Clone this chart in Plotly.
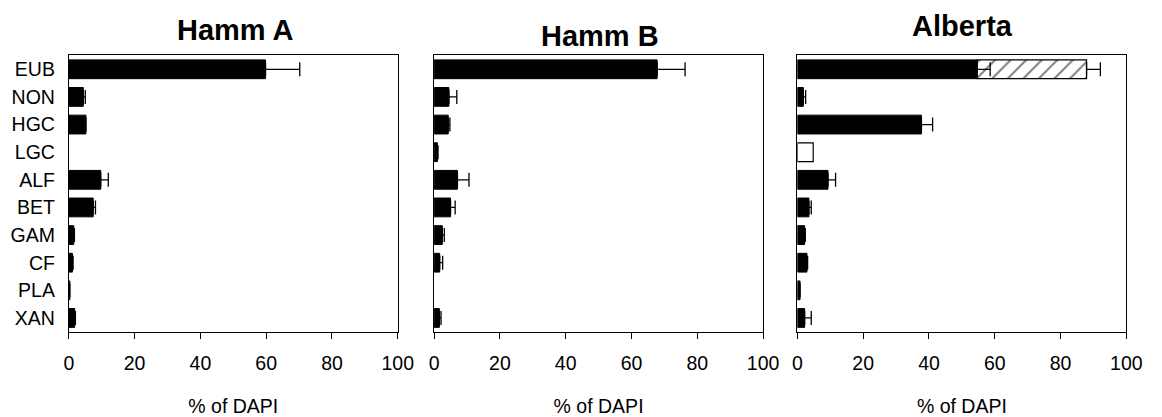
import plotly.graph_objects as go
from plotly.subplots import make_subplots

categories = ["EUB", "NON", "HGC", "LGC", "ALF", "BET", "GAM", "CF", "PLA", "XAN"]
panel_titles = ["Hamm A", "Hamm B", "Alberta"]

hamm_a = [59.8, 4.4, 5.2, 0.0, 9.7, 7.4, 1.5, 1.1, 0.3, 1.8]
hamm_a_err = [10.4, 0.6, 0.0, 0.0, 2.3, 0.7, 0.2, 0.2, 0.0, 0.2]

hamm_b = [67.8, 4.5, 4.3, 1.0, 7.1, 5.0, 2.5, 1.7, 0.0, 1.6]
hamm_b_err = [8.5, 2.4, 0.5, 0.2, 3.5, 1.4, 0.6, 0.9, 0.0, 0.5]

alberta = [54.6, 1.8, 37.7, 0.0, 9.3, 3.5, 2.2, 2.9, 0.8, 2.2]
alberta_err = [4.0, 0.7, 3.4, 0.0, 2.3, 0.7, 0.2, 0.2, 0.0, 2.0]
alberta_hatched = [33.3, 0, 0, 0, 0, 0, 0, 0, 0, 0]
alberta_hatched_err = [4.2, 0, 0, 0, 0, 0, 0, 0, 0, 0]
alberta_open = [0, 0, 0, 4.8, 0, 0, 0, 0, 0, 0]

x_ticks = [0, 20, 40, 60, 80, 100]
x_title = "% of DAPI"

FONT = "Liberation Sans, Arial, sans-serif"
W, H = 1162, 417


def nz(vals):
    return [v if v else None for v in vals]


def err(vals):
    return dict(type="data", array=vals, arrayminus=[0] * len(vals), symmetric=False,
                color="black", thickness=1.3, width=7)


fig = make_subplots(rows=1, cols=3, horizontal_spacing=0.02)
bar_kw = dict(orientation="h", width=0.68, showlegend=False)
solid = dict(color="black", line=dict(color="black", width=1))

fig.add_trace(go.Bar(y=categories, x=nz(hamm_a), error_x=err(hamm_a_err), marker=solid, **bar_kw), 1, 1)
fig.add_trace(go.Bar(y=categories, x=nz(hamm_b), error_x=err(hamm_b_err), marker=solid, **bar_kw), 1, 2)
# hatched extension drawn first (based at end of black bar), so the black bar's error bar stays on top
fig.add_trace(go.Bar(y=categories, x=nz(alberta_hatched), base=alberta, error_x=err(alberta_hatched_err),
                     marker=dict(color="white", line=dict(color="black", width=1.2),
                                 pattern=dict(shape="/", fgcolor="black", bgcolor="white",
                                              size=11, solidity=0.18)), **bar_kw), 1, 3)
fig.add_trace(go.Bar(y=categories, x=nz(alberta_open),
                     marker=dict(color="white", line=dict(color="black", width=1.2)), **bar_kw), 1, 3)
fig.add_trace(go.Bar(y=categories, x=nz(alberta), error_x=err(alberta_err), marker=solid, **bar_kw), 1, 3)

x_doms = [(65, 400), (437, 772), (807, 1142)]
y_dom = [1 - 335 / H, 1 - 56 / H]

for i, (a, b) in enumerate(x_doms, start=1):
    fig.update_xaxes(row=1, col=i, domain=[a / W, b / W], range=[0, 100], tickvals=x_ticks,
                     showgrid=False, zeroline=False, showline=True, linecolor="black", linewidth=1,
                     mirror=True, ticks="outside", ticklen=6, tickcolor="black", ticklabelstandoff=8,
                     tickfont=dict(family=FONT, size=19.5, color="black"),
                     title=dict(text=x_title, font=dict(family=FONT, size=19.5, color="black"), standoff=29))
    fig.update_yaxes(row=1, col=i, domain=y_dom, categoryorder="array", categoryarray=categories,
                     autorange="reversed", showgrid=False, zeroline=False, showline=True,
                     linecolor="black", linewidth=1, mirror=True, ticks="",
                     showticklabels=(i == 1), ticklabelstandoff=9,
                     tickfont=dict(family=FONT, size=19.5, color="black"))

title_pos = [(234.5, 30), (606, 36), (975, 26)]
for t, (cx, cy) in zip(panel_titles, title_pos):
    fig.add_annotation(text="<b>%s</b>" % t, x=cx / W, y=1 - cy / H, xref="paper", yref="paper",
                       xanchor="center", yanchor="middle", showarrow=False,
                       font=dict(family=FONT, size=29, color="black"))

fig.update_layout(width=W, height=H, margin=dict(l=0, r=0, t=0, b=0),
                  plot_bgcolor="white", paper_bgcolor="white", barmode="overlay",
                  font=dict(family=FONT, color="black"))

fig.write_html("out.html")
